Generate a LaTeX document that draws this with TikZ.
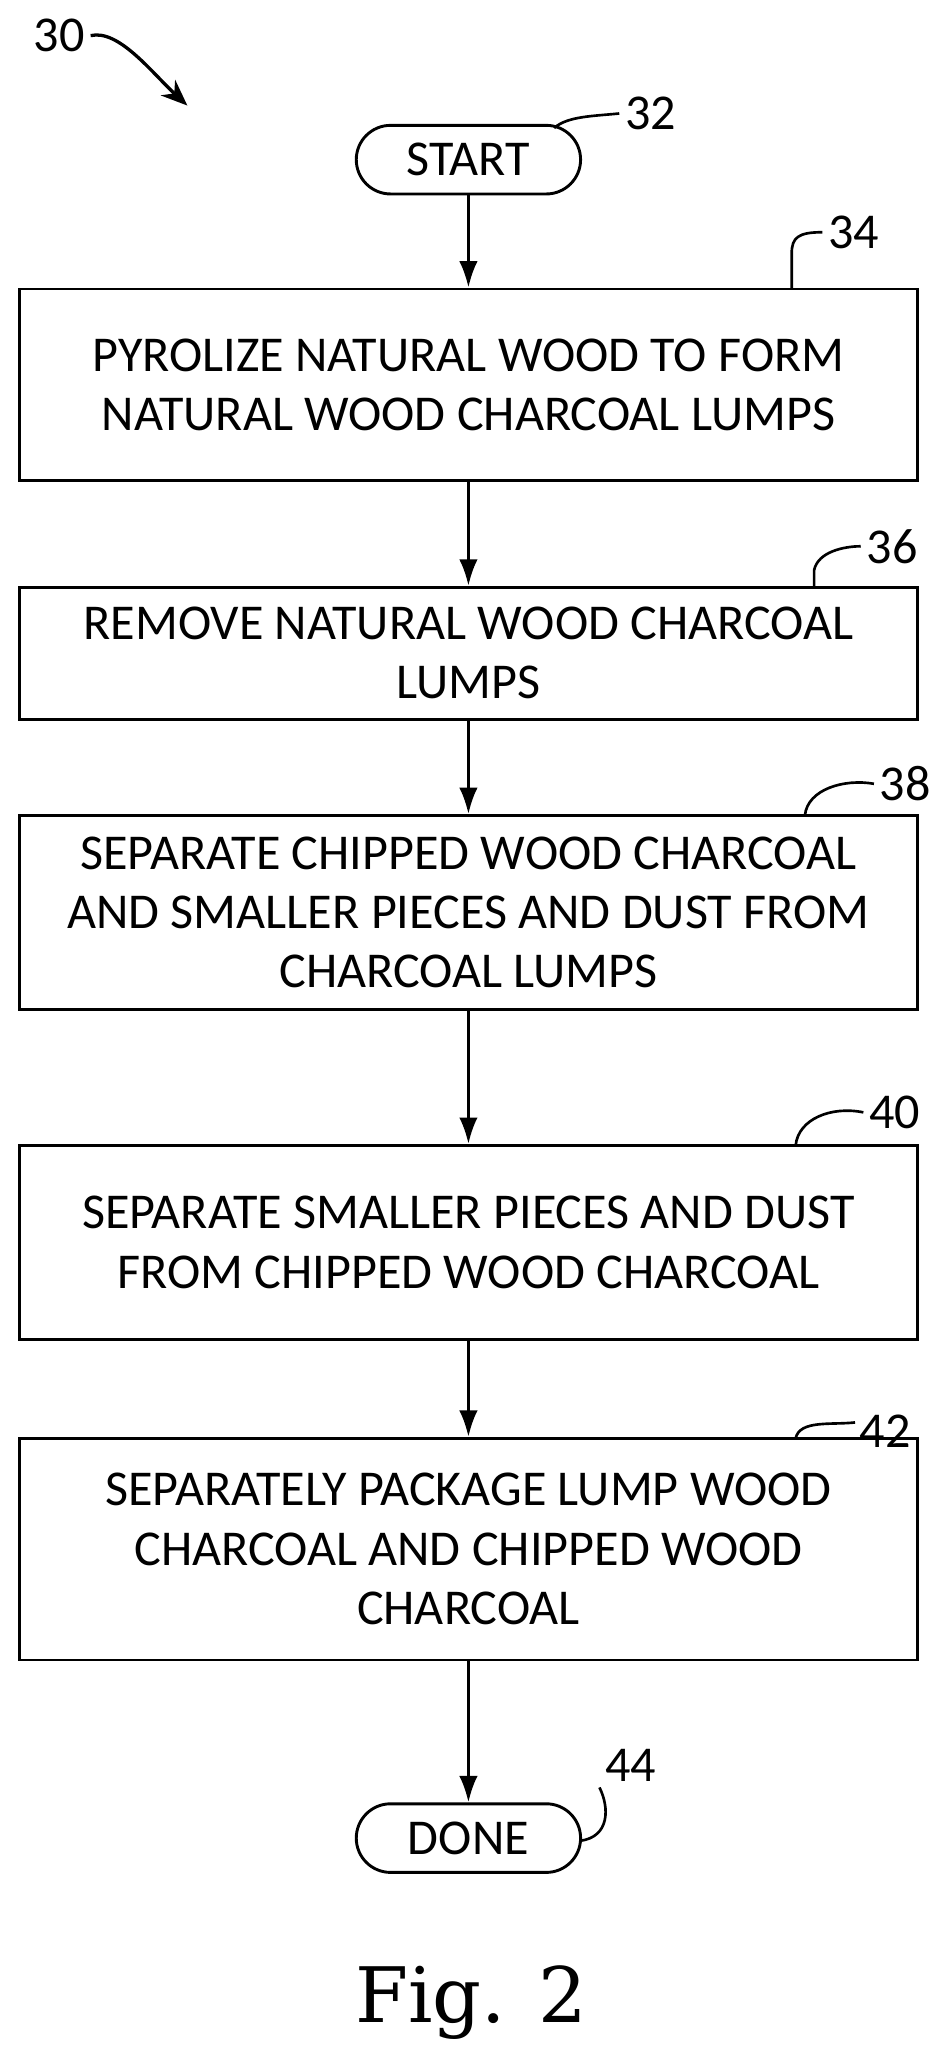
\documentclass[tikz,border=0pt]{standalone}
\usepackage{fontspec}
\setmainfont{Carlito}
\newfontfamily\figfont{DejaVu Serif}
\usetikzlibrary{arrows.meta}
\begin{document}
\begin{tikzpicture}[x=1pt,y=-1pt,line width=2.2pt,
  txt/.style={font=\fontsize{38}{45}\selectfont},
  stepbox/.style={draw,minimum width=680pt,align=center,txt,inner sep=0pt},
  term/.style={draw,rounded corners=26pt,minimum width=170pt,minimum height=52pt,txt,inner sep=0pt},
  arr/.style={-{Latex[length=20pt,width=14pt]}},
  lead/.style={line width=2pt}]
\useasboundingbox (0,0) rectangle (714,1568);
\node[term] (s) at (355,121) {START};
\node[stepbox,minimum height=145pt] (b34) at (355,291.5) {PYROLIZE NATURAL WOOD TO FORM\\NATURAL WOOD CHARCOAL LUMPS};
\node[stepbox,minimum height=100pt] (b36) at (355,495) {REMOVE NATURAL WOOD CHARCOAL\\LUMPS};
\node[stepbox,minimum height=147pt] (b38) at (355,691.5) {SEPARATE CHIPPED WOOD CHARCOAL\\AND SMALLER PIECES AND DUST FROM\\CHARCOAL LUMPS};
\node[stepbox,minimum height=147pt] (b40) at (355,941.5) {SEPARATE SMALLER PIECES AND DUST\\FROM CHIPPED WOOD CHARCOAL};
\node[stepbox,minimum height=168pt] (b42) at (355,1174) {SEPARATELY PACKAGE LUMP WOOD\\CHARCOAL AND CHIPPED WOOD\\CHARCOAL};
\node[term] (d) at (355,1393) {DONE};
\draw[arr] (s) -- (b34);
\draw[arr] (b34) -- (b36);
\draw[arr] (b36) -- (b38);
\draw[arr] (b38) -- (b40);
\draw[arr] (b40) -- (b42);
\draw[arr] (b42) -- (d);
% labels
\node[txt] (l30) at (45,27) {30};
\node[txt] (l32) at (493,86) {32};
\node[txt] (l34) at (647,176) {34};
\node[txt] (l36) at (676,414) {36};
\node[txt] (l38) at (686,594) {38};
\node[txt] (l40) at (678,843) {40};
\node[txt] (l42) at (671,1085) {42};
\node[txt] (l44) at (478,1338) {44};
\coordinate (c32) at (420,97);
\coordinate (c34) at (600,219);
\coordinate (c36) at (617,445);
\coordinate (c38) at (610,618);
\coordinate (c40) at (603,868);
\coordinate (c42) at (603,1090);
\coordinate (c44) at (440,1395);
\draw[line width=2.5pt,-{Stealth[length=20pt,width=16pt]}] (l30.east) .. controls (90,22) and (115,55) .. (142,80);
\draw[lead] (c32) .. controls (430,88) and (450,88) .. (l32.west);
\draw[lead] (c34) -- (600,192) .. controls (600,180) and (605,176) .. (l34.west);
\draw[lead] (c36) -- (617,432) .. controls (620,418) and (640,414) .. (l36.west);
\draw[lead] (c38) .. controls (612,598) and (640,590) .. (l38.west);
\draw[lead] (c40) .. controls (605,848) and (630,838) .. (l40.west);
\draw[lead] (c42) .. controls (606,1076) and (630,1080) .. (648,1078);
\draw[lead] (c44) .. controls (462,1392) and (462,1370) .. (l44.south west);
\node[font=\figfont\fontsize{58}{60}\selectfont] (fig) at (357,1518) {Fig. 2};
\end{tikzpicture}
\end{document}
